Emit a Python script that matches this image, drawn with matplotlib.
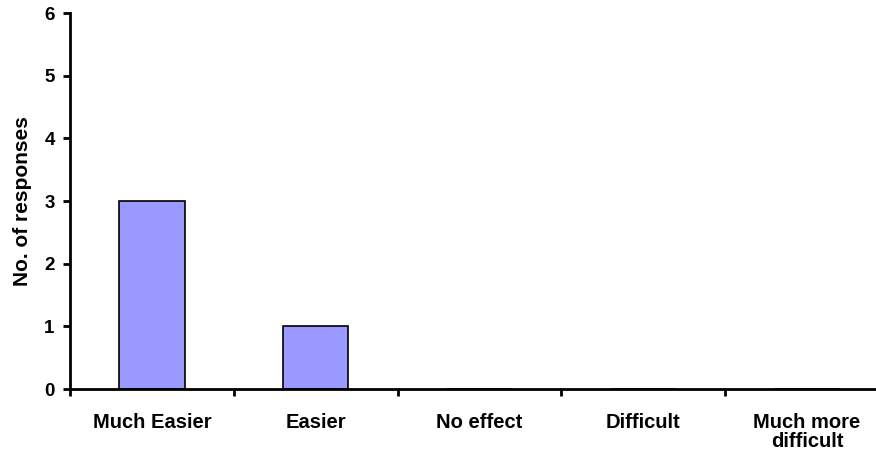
import numpy as np
import matplotlib.pyplot as plt
from matplotlib.ticker import FixedLocator

# Survey responses per category
categories = ['Much Easier', 'Easier', 'No effect', 'Difficult', 'Much more\ndifficult']
responses = [3, 1, 0, 0, 0]

plt.rcParams['font.family'] = ['Liberation Sans', 'DejaVu Sans']
plt.rcParams['font.weight'] = 'bold'

fig = plt.figure(figsize=(8.76, 4.58), dpi=100)
ax = fig.add_axes([70 / 876, 1 - 389 / 458, 819 / 876, 376 / 458])

x = np.arange(len(categories))
ax.bar(x, responses, width=0.4, color='#9999FF', edgecolor='black', linewidth=1.2, zorder=2)

ax.set_xlim(-0.5, len(categories) - 0.5)
ax.set_ylim(0, 6)
ax.set_yticks(range(0, 7))

# category labels at centres, tick marks between categories
ax.set_xticks(x)
ax.set_xticklabels(categories, fontsize=14.5, fontweight='bold', linespacing=1.0)
ax.xaxis.set_minor_locator(FixedLocator(np.arange(-0.5, len(categories), 1.0)))
ax.tick_params(axis='x', which='major', length=0, pad=17)
ax.tick_params(axis='x', which='minor', length=5, width=2, direction='out')
ax.tick_params(axis='y', length=5, width=2, direction='out', labelsize=13.5, pad=6)
for lbl in ax.get_yticklabels():
    lbl.set_fontweight('bold')

ax.set_ylabel('No. of responses', fontsize=15, fontweight='bold', labelpad=9)

for side in ['top', 'right']:
    ax.spines[side].set_visible(False)
for side in ['left', 'bottom']:
    ax.spines[side].set_linewidth(2)

fig.savefig('out.png', dpi=100)
